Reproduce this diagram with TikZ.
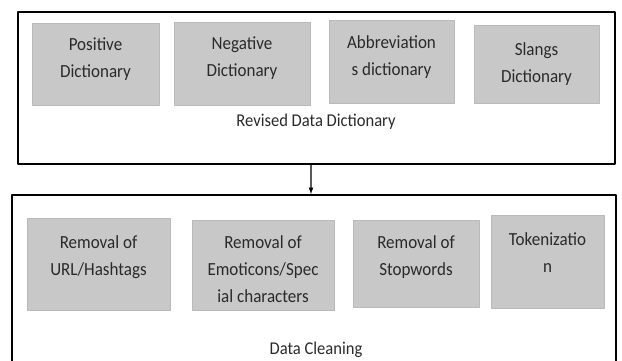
\documentclass[tikz,border=0pt]{standalone}
\usepackage{fontspec}
\setmainfont{Carlito}[FakeStretch=0.92]
\usetikzlibrary{positioning}
\definecolor{boxgray}{RGB}{200,200,200}
\definecolor{boxedge}{RGB}{186,186,186}
\definecolor{txtgray}{RGB}{42,42,42}
\tikzset{
  stepbox/.style={fill=boxgray,draw=boxedge,line width=0.8bp,inner sep=0pt},
  steptext/.style={anchor=north,inner sep=0pt,align=center,text=txtgray,
    font=\fontsize{18.5bp}{27bp}\selectfont},
  grouplabel/.style={inner sep=0pt,text=txtgray,font=\fontsize{18bp}{20bp}\selectfont},
  groupframe/.style={draw=black,line width=2bp,inner sep=0pt},
}
\begin{document}
\begin{tikzpicture}[>=latex,line join=bevel,]
\useasboundingbox (0bp,0bp) rectangle (622bp,361bp);
%% revised data dictionary
\node (dict_frame) at (316.5bp,273bp) [groupframe,minimum width=597bp,minimum height=152bp] {};
  \node (pos) at (95.5bp,297bp) [stepbox,minimum width=127bp,minimum height=82bp] {};
  \node (neg) at (242bp,297.5bp) [stepbox,minimum width=136bp,minimum height=83bp] {};
  \node (abb) at (391.5bp,299.5bp) [stepbox,minimum width=125bp,minimum height=83bp] {};
  \node (sla) at (536.5bp,297bp) [stepbox,minimum width=125bp,minimum height=78bp] {};
  \node (pos_txt) [steptext,below=15bp of pos.north] {Positive\\Dictionary};
  \node (neg_txt) [steptext,below=15bp of neg.north] {Negative\\Dictionary};
  \node (abb_txt) [steptext,below=16bp of abb.north] {Abbreviation\\s dictionary};
  \node (sla_txt) [steptext,below=18bp of sla.north] {Slangs\\Dictionary};
  \node (dict_lbl) at (316bp,239bp) [grouplabel] {Revised Data Dictionary};
%% data cleaning
\node (clean_frame) at (314bp,77.5bp) [groupframe,minimum width=604bp,minimum height=177bp] {};
  \node (url) at (98.5bp,97bp) [stepbox,minimum width=143bp,minimum height=92bp] {};
  \node (emo) at (263bp,96bp) [stepbox,minimum width=142bp,minimum height=90bp] {};
  \node (stp) at (416bp,97.5bp) [stepbox,minimum width=126bp,minimum height=87bp] {};
  \node (tok) at (547.5bp,99.5bp) [stepbox,minimum width=113bp,minimum height=93bp] {};
  \node (url_txt) [steptext,below=18bp of url.north] {Removal of\\URL/Hashtags};
  \begin{scope}
  \clip (emo.south west) rectangle (emo.north east);
  \node (emo_txt) [steptext,below=16bp of emo.north] {Removal of\\Emoticons/Spec\\ial characters};
  \end{scope}
  \node (stp_txt) [steptext,below=16bp of stp.north] {Removal of\\Stopwords};
  \node (tok_txt) [steptext,below=18bp of tok.north] {Tokenizatio\\n};
  \node (clean_lbl) at (316bp,11bp) [grouplabel] {Data Cleaning};
%
  \draw [black,line width=1.2bp,->] ([xshift=-5.5bp]dict_frame.south) -- ([xshift=-3bp]clean_frame.north);
%
\end{tikzpicture}
\end{document}
